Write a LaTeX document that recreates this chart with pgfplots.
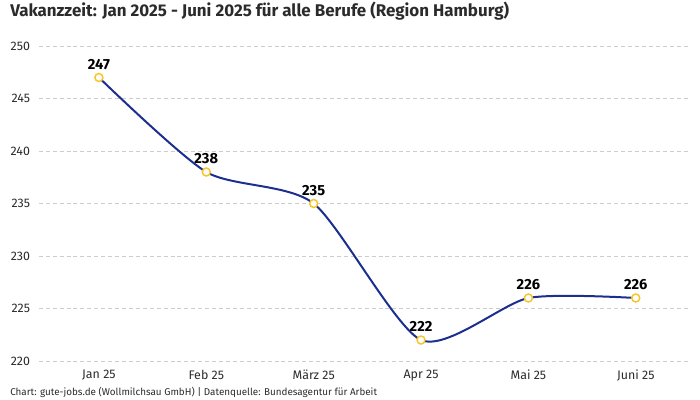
\documentclass[border=0pt]{standalone}
\usepackage{pgfplots}
\pgfplotsset{compat=1.18}
\usepackage{fontspec}
\setmainfont{Fira Sans}
\definecolor{txt}{HTML}{2B2B2B}
\definecolor{linie}{HTML}{1C2F8F}
\definecolor{punkt}{HTML}{F7C52A}
\definecolor{raster}{HTML}{CCCCCC}
\begin{document}
\begin{tikzpicture}[x=1pt,y=1pt]
  \path (0,0) rectangle (525,300);
  \node[anchor=base west, inner sep=0pt, font=\bfseries\fontsize{12.7}{14}\selectfont, text=txt]
    at (7.5,287.5) {Vakanzzeit: Jan 2025 - Juni 2025 für alle Berufe (Region Hamburg)};
  \node[anchor=base west, inner sep=0pt, font=\fontsize{7.4}{8}\selectfont, text=txt]
    at (7.5,3.5) {Chart: gute-jobs.de (Wollmilchsau GmbH) | Datenquelle: Bundesagentur für Arbeit};
  \begin{axis}[
      at={(29.1pt,29.25pt)}, anchor=south west,
      scale only axis,
      width=488pt, height=236.25pt,
      xmin=-0.56, xmax=5.5,
      ymin=220, ymax=250,
      xtick={0,1,2,3,4,5},
      xticklabels={Jan 25, Feb 25, März 25, Apr 25, Mai 25, Juni 25},
      ytick={220,225,230,235,240,245,250},
      axis line style={draw=none},
      major tick length=0pt,
      ymajorgrids=true,
      grid style={raster, dash pattern=on 3pt off 2.2pt, line width=0.6pt},
      tick label style={font=\fontsize{9.3}{11}\selectfont, text=txt},
      yticklabel style={inner sep=0pt, xshift=-6.4pt},
      xticklabel style={inner sep=0pt, yshift=-6.5pt},
      /pgf/number format/assume math mode=true,
      clip=false,
  ]
  \addplot[linie, line width=1.5pt, smooth, tension=0.42, no markers]
    coordinates {(0,247) (1,238) (2,235) (3,222) (4,226) (5,226)};
  \addplot[only marks, mark=*, mark size=3pt,
      mark options={draw=punkt, fill=white, line width=1.1pt},
      nodes near coords,
      every node near coord/.append style={anchor=south, inner sep=0pt, yshift=5.6pt,
        font=\bfseries\fontsize{11}{13}\selectfont, text=black},
    ]
    coordinates {(0,247) (1,238) (2,235) (3,222) (4,226) (5,226)};
  \end{axis}
\end{tikzpicture}
\end{document}
